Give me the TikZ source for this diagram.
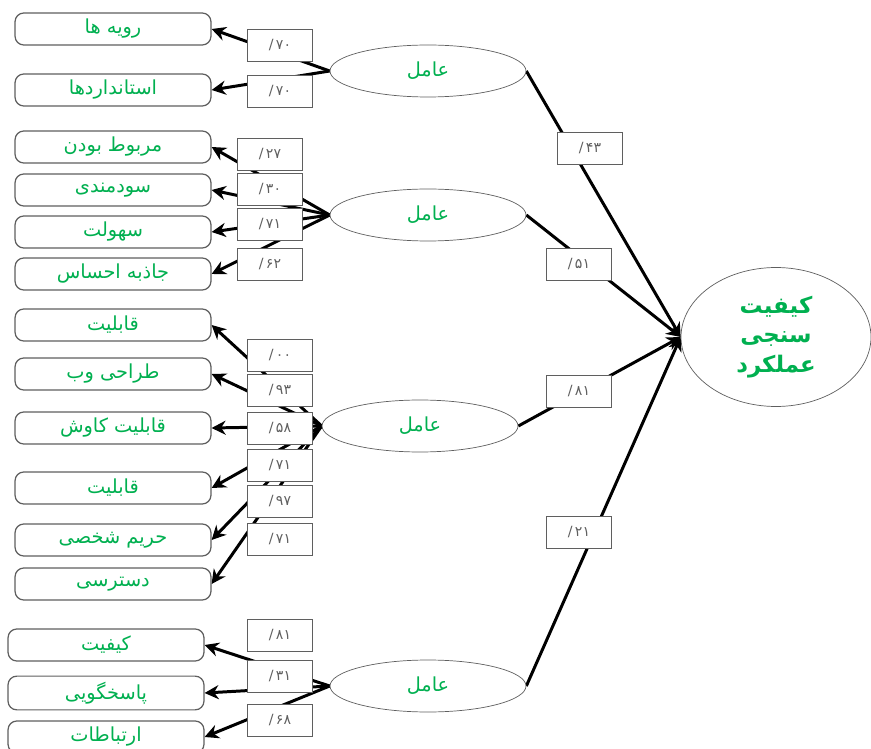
\documentclass[tikz,border=0pt]{standalone}
\usepackage{fontspec}
\usepackage{xcolor}
\usetikzlibrary{arrows.meta,backgrounds,shapes.geometric}
\TeXXeTstate=1
\newfontfamily\arabicfont[Script=Arabic]{DejaVu Sans}
\newfontfamily\numfont{DejaVu Sans}
\definecolor{fa_green}{RGB}{0,176,80}
\definecolor{fa_gray}{RGB}{95,95,95}
\newcommand{\rtltext}[1]{\beginR #1\endR}

\tikzset{
  itembox/.style={draw=fa_gray, line width=0.7pt, fill=white, rounded corners=5pt, minimum width=3.92cm,
    minimum height=0.64cm, text=fa_green, font=\arabicfont\fontsize{11}{13}\selectfont},
  loadbox/.style={draw=fa_gray, fill=white, minimum width=1.3cm, minimum height=0.64cm,
    text=fa_gray, font=\numfont\fontsize{8}{10}\selectfont},
  factor/.style={ellipse, draw=fa_gray, fill=white, minimum width=3.92cm, minimum height=1.04cm,
    text=fa_green, font=\arabicfont\fontsize{11}{13}\selectfont},
  outcome/.style={ellipse, draw=fa_gray, fill=white, minimum width=3.8cm, minimum height=2.78cm,
    align=center, text=fa_green, font=\arabicfont\bfseries\fontsize{13}{17}\selectfont},
  link/.style={black, line width=1.7pt, -{Stealth[length=8pt,width=8pt]}}
}

\begin{document}
\begin{tikzpicture}[x=0.02cm, y=-0.02cm]
    % page frame: 871 x 749 px
    \useasboundingbox (0,0) rectangle (871,749);

    % observed items (left column)
    \node[itembox] (r1) at (113,29) {\rtltext{رویه ها}};
    \node[itembox] (r2) at (113,90) {\rtltext{استانداردها}};
    \node[itembox] (r3) at (113,147) {\rtltext{مربوط بودن}};
    \node[itembox] (r4) at (113,190) {\rtltext{سودمندی}};
    \node[itembox] (r5) at (113,232) {\rtltext{سهولت}};
    \node[itembox] (r6) at (113,274) {\rtltext{جاذبه احساس}};
    \node[itembox] (r7) at (113,325) {\rtltext{قابلیت}};
    \node[itembox] (r8) at (113,374) {\rtltext{طراحی وب}};
    \node[itembox] (r9) at (113,428) {\rtltext{قابلیت کاوش}};
    \node[itembox] (r10) at (113,488) {\rtltext{قابلیت}};
    \node[itembox] (r11) at (113,540) {\rtltext{حریم شخصی}};
    \node[itembox] (r12) at (113,584) {\rtltext{دسترسی}};
    \node[itembox] (r13) at (106,645) {\rtltext{کیفیت}};
    \node[itembox] (r14) at (106,693) {\rtltext{پاسخگویی}};
    \node[itembox] (r15) at (106,737) {\rtltext{ارتباطات}};

    % latent factors
    \node[factor] (f1) at (428,71) {\rtltext{عامل}};
    \node[factor] (f2) at (428,215) {\rtltext{عامل}};
    \node[factor] (f3) at (420,426) {\rtltext{عامل}};
    \node[factor] (f4) at (428,686) {\rtltext{عامل}};

    % outcome
    \node[outcome] (o) at (776,337)
      {\rtltext{کیفیت}\\ \rtltext{سنجی}\\ \rtltext{عملکرد}};

    % loadings
    \foreach \n/\x/\y/\v in {l1/280/45/۷۰, l2/280/91/۷۰, l3/270/154/۲۷, l4/270/189/۳۰,
        l5/270/224/۷۱, l6/270/264/۶۲, l7/280/355/۰۰, l8/280/390/۹۳, l9/280/428/۵۸,
        l10/280/465/۷۱, l11/280/501/۹۷, l12/280/539/۷۱, l13/280/635/۸۱,
        l14/280/676/۳۱, l15/280/720/۶۸, p1/590/148/۴۳, p2/579/264/۵۱,
        p3/579/391/۸۱, p4/579/532/۲۱} {
      \node[loadbox] (\n) at (\x,\y) {/\,\v};
    }

    % connectors behind the boxes
    \begin{scope}[on background layer]
      \foreach \f/\r in {f1/r1, f1/r2, f2/r3, f2/r4, f2/r5, f2/r6, f3/r7, f3/r8, f3/r9,
          f3/r10, f3/r11, f3/r12, f4/r13, f4/r14, f4/r15} {
        \draw[link] (\f.west) -- (\r.east);
      }
      \foreach \f in {f1, f2, f3, f4} {
        \draw[link] (\f.east) -- (o.west);
      }
    \end{scope}

\end{tikzpicture}
\end{document}
